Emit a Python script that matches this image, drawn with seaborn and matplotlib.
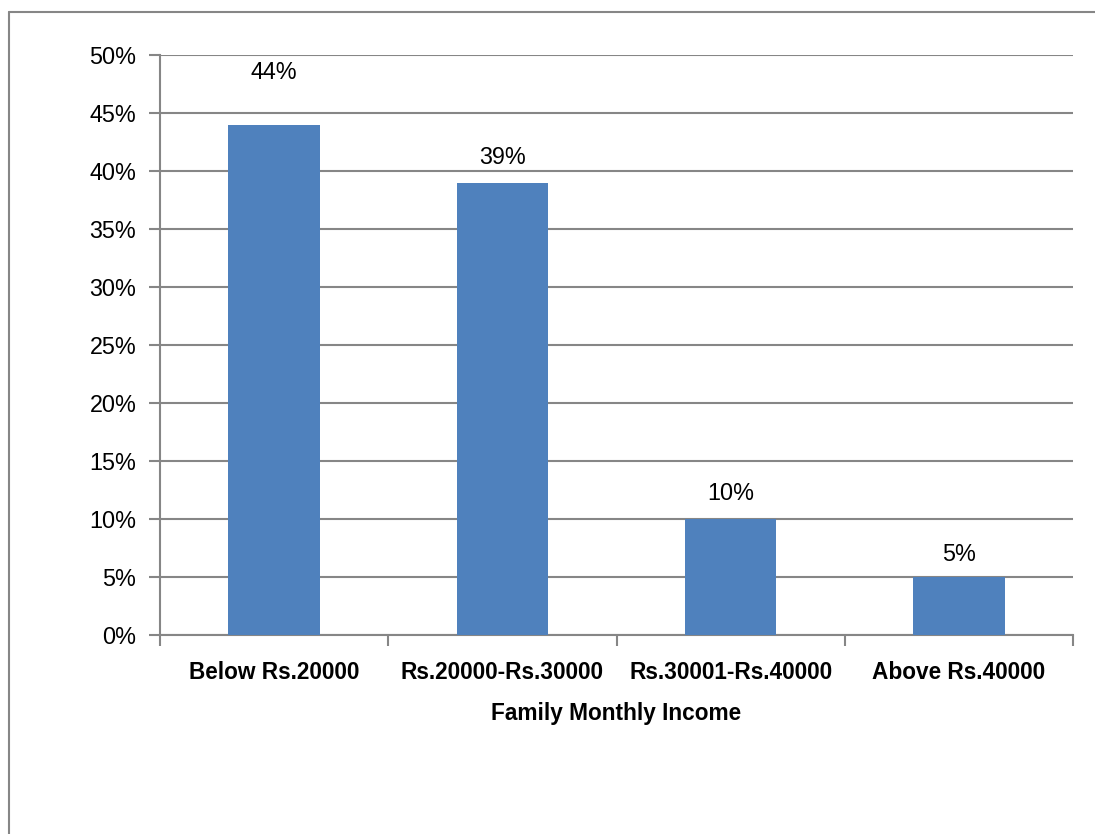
import matplotlib
matplotlib.use("Agg")
import matplotlib.pyplot as plt
import seaborn as sns
import pandas as pd
from matplotlib.lines import Line2D
from matplotlib.ticker import FuncFormatter, FixedLocator, NullFormatter

categories = ["Below Rs.20000", "Rs.20000-Rs.30000", "Rs.30001-Rs.40000", "Above Rs.40000"]
values = [44, 39, 10, 5]
label_texts = ["44%", "39%", "10%", "5%"]
yticks = [0, 5, 10, 15, 20, 25, 30, 35, 40, 45, 50]

sns.set_theme(style="white")
plt.rcParams['font.family'] = ['Liberation Sans', 'DejaVu Sans']

df = pd.DataFrame({"cat": categories, "val": values})

fig = plt.figure(figsize=(10.95, 8.34), dpi=100)
ax = fig.add_axes([160/1095, 1-635/834, (1073-160)/1095, (635-55)/834])

gray = "#868686"
sns.barplot(data=df, x="cat", y="val", color="#4F81BD", width=0.4, ax=ax,
            saturation=1, zorder=3)
for p in ax.patches:
    p.set_edgecolor("none")

ax.set_ylim(0, 50)
ax.set_xlim(-0.5, len(categories) - 0.5)
ax.set_yticks(yticks)
ax.yaxis.set_major_formatter(FuncFormatter(lambda v, _: f"{int(v)}%"))
ax.yaxis.grid(True, color=gray, linewidth=1.5, zorder=0)
ax.set_axisbelow(True)

# x ticks at category boundaries, labels at centers
ax.set_xticks(range(len(categories)))
ax.set_xticklabels(categories, fontsize=16.3, fontweight="bold", color="black")
ax.tick_params(axis="x", which="major", length=0, pad=19)
ax.xaxis.set_minor_locator(FixedLocator([i - 0.5 for i in range(len(categories) + 1)]))
ax.xaxis.set_minor_formatter(NullFormatter())
ax.tick_params(axis="x", which="minor", length=8, width=1.5, color=gray, direction="out", bottom=True)
ax.tick_params(axis="y", length=8, width=1.5, color=gray, direction="out", left=True,
               labelsize=16.8, labelcolor="black", pad=9)

for side in ["top", "right"]:
    ax.spines[side].set_visible(False)
for side in ["left", "bottom"]:
    ax.spines[side].set_color(gray)
    ax.spines[side].set_linewidth(1.5)

ax.set_xlabel("Family Monthly Income", fontsize=16.3, fontweight="bold", color="black", labelpad=13)
ax.set_ylabel("")

label_offsets = [4.5, 2.2, 2.2, 1.9]
for i, (v, t) in enumerate(zip(values, label_texts)):
    ax.text(i, v + label_offsets[i], t, ha="center", va="center", fontsize=16.8, color="black")

# outer chart border (left and top visible)
fig.add_artist(Line2D([9/1095, 9/1095], [0, 1-12/834], transform=fig.transFigure, color=gray, linewidth=1.5))
fig.add_artist(Line2D([9/1095, 1], [1-12/834, 1-12/834], transform=fig.transFigure, color=gray, linewidth=1.5))

fig.savefig("out.png", dpi=100)
